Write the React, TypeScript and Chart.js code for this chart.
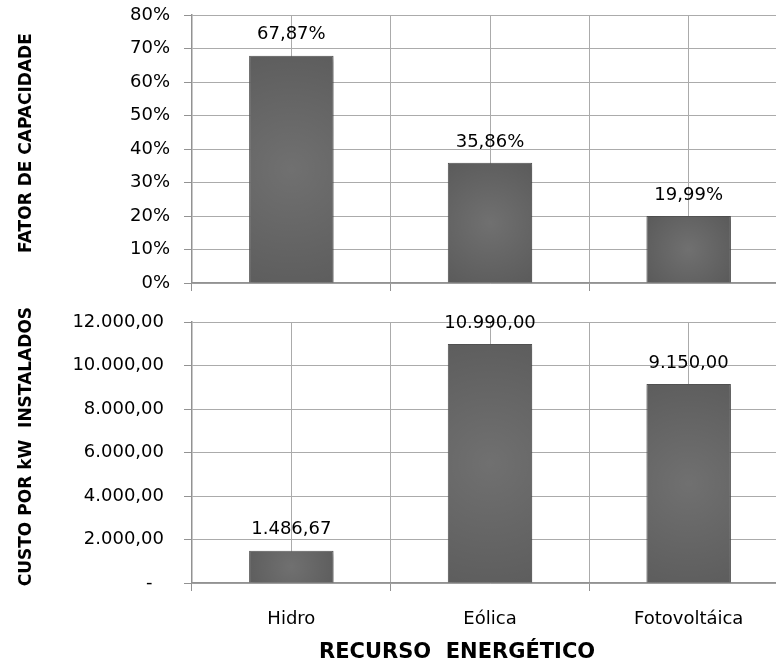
import React, { useEffect, useRef } from 'react';
import { Chart, registerables } from 'chart.js';

Chart.register(...registerables);

// ---- data ----
const categories = ['Hidro', 'Eólica', 'Fotovoltáica'];
const capacityFactor = [67.87, 35.86, 19.99]; // %
const costPerKw = [1486.67, 10990.0, 9150.0];
const capacityAxis = { min: 0, max: 80, step: 10 };
const costAxis = { min: 0, max: 12000, step: 2000 };

const FONT = 'DejaVu Sans';
const GRID = '#ababab';
const AXIS = '#929292';
const BAR = '#5b5b5b';

function fmtBR(v: number, dec: number) {
  const fixed = Math.abs(v).toFixed(dec);
  const [i, d] = fixed.split('.');
  const ii = i.replace(/\B(?=(\d{3})+(?!\d))/g, '.');
  return (v < 0 ? '-' : '') + ii + (d ? ',' + d : '');
}

const barShadow = {
  id: 'barShadow',
  beforeDatasetDraw(chart: any) {
    const ctx = chart.ctx;
    ctx.save();
    ctx.shadowColor = 'rgba(0,0,0,0.28)';
    ctx.shadowBlur = 5;
    ctx.shadowOffsetX = 2;
    ctx.shadowOffsetY = 2;
  },
  afterDatasetDraw(chart: any) {
    chart.ctx.restore();
  },
};

const barShine = {
  id: 'barShine',
  afterDatasetsDraw(chart: any) {
    const ctx = chart.ctx;
    chart.getDatasetMeta(0).data.forEach((el: any) => {
      const { x, y, base, width } = el.getProps(['x', 'y', 'base', 'width'], true);
      const top = Math.min(y, base);
      const h = Math.abs(base - y);
      if (!h) return;
      ctx.save();
      ctx.beginPath();
      ctx.rect(x - width / 2, top, width, h);
      ctx.clip();
      const r = Math.max(width, h) * 0.6;
      const g = ctx.createRadialGradient(x, top + h / 2, 0, x, top + h / 2, r);
      g.addColorStop(0, 'rgba(255,255,255,0.13)');
      g.addColorStop(1, 'rgba(255,255,255,0)');
      ctx.fillStyle = g;
      ctx.fillRect(x - width / 2, top, width, h);
      ctx.restore();
    });
  },
};

function makeLabelPlugin(fmt: (v: number) => string) {
  return {
    id: 'valueLabels',
    afterDatasetsDraw(chart: any) {
      const ctx = chart.ctx;
      const ds = chart.data.datasets[0];
      ctx.save();
      ctx.font = `18px "${FONT}"`;
      ctx.fillStyle = '#000';
      ctx.textAlign = 'center';
      ctx.textBaseline = 'middle';
      chart.getDatasetMeta(0).data.forEach((el: any, i: number) => {
        const { x, y } = el.getProps(['x', 'y'], true);
        ctx.fillText(fmt(ds.data[i]), x, y - 21);
      });
      ctx.restore();
    },
  };
}

function baseDataset(values: number[]) {
  return {
    data: values,
    backgroundColor: BAR,
    borderColor: '#505050',
    borderWidth: 1,
    barPercentage: 0.425,
    categoryPercentage: 1,
  };
}

const centerGridAxis = {
  type: 'category',
  position: 'bottom',
  offset: true,
  grid: { offset: false, drawTicks: false, color: GRID },
  ticks: { display: false },
  border: { display: false },
  afterFit: (s: any) => {
    s.height = 0;
  },
};

function yFit(s: any) {
  s.width = 192;
  s.paddingTop = 0;
  s.paddingBottom = 0;
}

function topConfig(): any {
  return {
    type: 'bar',
    data: { labels: categories, datasets: [baseDataset(capacityFactor)] },
    options: {
      animation: false,
      responsive: false,
      layout: { padding: { top: 15, right: 2, left: 0, bottom: 0 } },
      plugins: { legend: { display: false }, tooltip: { enabled: false } },
      scales: {
        x: {
          ticks: { display: false },
          grid: { color: GRID, tickColor: AXIS, tickLength: 8, offset: true },
          border: { color: AXIS, width: 1.5 },
          afterFit: (s: any) => {
            s.height = 17;
          },
        },
        xc: centerGridAxis,
        y: {
          min: capacityAxis.min,
          max: capacityAxis.max,
          ticks: {
            stepSize: capacityAxis.step,
            callback: (v: any) => v + '%',
            padding: 14,
            color: '#000',
            font: { family: FONT, size: 18 },
          },
          grid: { color: GRID, tickColor: AXIS, tickLength: 8 },
          border: { color: AXIS, width: 1.5 },
          title: {
            display: true,
            text: '  FATOR DE CAPACIDADE',
            color: '#000',
            font: { family: FONT, size: 17, weight: 'bold' },
            padding: { top: 16, bottom: 0 },
          },
          afterFit: yFit,
        },
      },
    },
    plugins: [barShadow, barShine, makeLabelPlugin((v) => fmtBR(v, 2) + '%')],
  };
}

function bottomConfig(): any {
  return {
    type: 'bar',
    data: { labels: categories, datasets: [baseDataset(costPerKw)] },
    options: {
      animation: false,
      responsive: false,
      layout: { padding: { top: 22, right: 2, left: 0, bottom: 0 } },
      plugins: { legend: { display: false }, tooltip: { enabled: false } },
      scales: {
        x: {
          ticks: { color: '#000', font: { family: FONT, size: 18 }, padding: 18 },
          grid: { color: GRID, tickColor: AXIS, tickLength: 8, offset: true },
          border: { color: AXIS, width: 1.5 },
          title: {
            display: true,
            text: 'RECURSO  ENERGÉTICO' + '         ',
            color: '#000',
            font: { family: FONT, size: 21, weight: 'bold' },
            padding: { top: 0, bottom: 1 },
          },
          afterFit: (s: any) => {
            s.height = 83;
          },
        },
        xc: centerGridAxis,
        y: {
          min: costAxis.min,
          max: costAxis.max,
          ticks: {
            stepSize: costAxis.step,
            callback: (v: any) => (v === 0 ? '-  ' : fmtBR(v, 2)),
            padding: 20,
            color: '#000',
            font: { family: FONT, size: 18 },
          },
          grid: { color: GRID, tickColor: AXIS, tickLength: 8 },
          border: { color: AXIS, width: 1.5 },
          title: {
            display: true,
            text: '  CUSTO POR kW  INSTALADOS',
            color: '#000',
            font: { family: FONT, size: 17, weight: 'bold' },
            padding: { top: 16, bottom: 0 },
          },
          afterFit: yFit,
        },
      },
    },
    plugins: [barShadow, barShine, makeLabelPlugin((v) => fmtBR(v, 2))],
  };
}

function ChartCanvas({ width, height, make }: { width: number; height: number; make: () => any }) {
  const ref = useRef<HTMLCanvasElement | null>(null);
  useEffect(() => {
    if (!ref.current) return;
    const chart = new Chart(ref.current, make());
    return () => chart.destroy();
  }, []);
  return <canvas ref={ref} width={width} height={height} style={{ display: 'block' }} />;
}

export default function App() {
  return (
    <div
      style={{
        position: 'absolute',
        left: 0,
        top: 0,
        width: 776,
        height: 666,
        overflow: 'hidden',
        background: '#fff',
      }}
    >
      <ChartCanvas width={790} height={300} make={topConfig} />
      <ChartCanvas width={790} height={366} make={bottomConfig} />
    </div>
  );
}
